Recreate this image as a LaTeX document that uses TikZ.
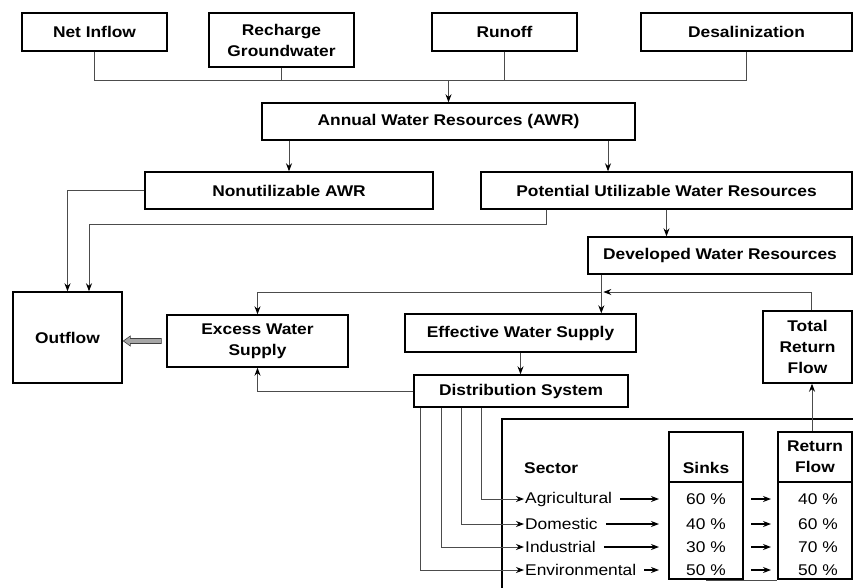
\documentclass[tikz,border=0pt]{standalone}
\usepackage{fontspec}
\setmainfont{Liberation Sans}[FakeStretch=1.12]
\usetikzlibrary{arrows.meta}
\tikzset{
  txt/.style={font=\fontsize{15.5}{21}\selectfont},
  box/.style={draw, line width=1.4pt, inner sep=0pt, align=center, txt, font=\fontsize{15.5}{21}\selectfont\bfseries},
  tbox/.style={draw, line width=2pt, inner sep=0pt},
  hdr/.style={inner sep=1pt, align=center, font=\fontsize{15.5}{21}\selectfont\bfseries},
  row/.style={inner sep=1pt, txt},
  conn/.style={draw=black!70, line width=0.9pt},
  arr/.style={conn, -{Stealth[length=8pt,width=6pt,color=black]}},
  rowarr/.style={draw=black, line width=1.1pt, -{Stealth[length=8pt,width=6pt]}},
}
\begin{document}
\begin{tikzpicture}[x=1pt,y=-1pt]
  \useasboundingbox (0,0) rectangle (853,587);

  % sources
  \node[box, minimum width=145pt, minimum height=38pt] (inflow) at (94.5,32) {Net Inflow};
  \node[box, minimum width=145pt, minimum height=54pt] (recharge) at (281.5,40) {Recharge\\Groundwater};
  \node[box, minimum width=145pt, minimum height=38pt] (runoff) at (504.5,32) {Runoff};
  \node[box, minimum width=211pt, minimum height=38pt] (desal) at (746.5,32) {Desalinization};

  % resources
  \node[box, minimum width=373pt, minimum height=37pt] (awr) at (448.5,121.5) {Annual Water Resources (AWR)};
  \node[box, minimum width=288pt, minimum height=37pt] (nonutil) at (289,190.5) {Nonutilizable AWR};
  \node[box, minimum width=371pt, minimum height=37pt] (puwr) at (666.5,190.5) {Potential Utilizable Water Resources};
  \node[box, minimum width=264pt, minimum height=37pt] (dwr) at (720,255.5) {Developed Water Resources};

  % supply
  \node[box, minimum width=109pt, minimum height=91pt] (outflow) at (67.5,337.5) {Outflow};
  \node[box, minimum width=181pt, minimum height=52pt] (excess) at (257.5,341) {Excess Water\\Supply};
  \node[box, minimum width=231pt, minimum height=38pt] (ews) at (520.5,333) {Effective Water Supply};
  \node[box, minimum width=214pt, minimum height=32pt] (ds) at (521,391) {Distribution System};
  \node[box, minimum width=89pt, minimum height=72pt] (trf) at (807.5,347) {Total\\Return\\Flow};

  % table
  \draw[line width=2pt] (502,600) |- (870,419);
  \node[hdr, anchor=west] (sector) at (523,468) {Sector};
  \node[tbox, minimum width=74pt, minimum height=147pt] (sinks) at (706,505.5) {};
  \node[tbox, minimum width=74pt, minimum height=147pt] (retbox) at (815,505.5) {};
  \draw[line width=2pt] (sinks.west |- 0,482) -- (sinks.east |- 0,482);
  \draw[line width=2pt] (retbox.west |- 0,482) -- (retbox.east |- 0,482);
  \node[hdr] (sinkhd) at (706,468) {Sinks};
  \node[hdr] (rethd) at (815,457) {Return\\Flow};

  \node[row, anchor=west] (agri) at (524,499) {Agricultural};
  \node[row, anchor=west] (dom) at (524,524) {Domestic};
  \node[row, anchor=west] (ind) at (524,547) {Industrial};
  \node[row, anchor=west] (env) at (524,570) {Environmental};

  \node[row] (s1) at (706,499) {60 \%};
  \node[row] (s2) at (706,524) {40 \%};
  \node[row] (s3) at (706,547) {30 \%};
  \node[row] (s4) at (706,570) {50 \%};

  \node[row] (r1) at (818,499) {40 \%};
  \node[row] (r2) at (818,524) {60 \%};
  \node[row] (r3) at (818,547) {70 \%};
  \node[row] (r4) at (818,570) {50 \%};

  % inflows to AWR
  \coordinate (join) at (awr.north |- 0,80);
  \draw[conn] (inflow.south) |- (desal.south |- join) -- (desal.south);
  \draw[conn] (recharge.south) -- (recharge.south |- join);
  \draw[conn] (runoff.south) -- (runoff.south |- join);
  \draw[arr] (join) -- (awr.north);

  % AWR split
  \coordinate (ptap) at ([xshift=159.5pt]awr.south);
  \draw[arr] (awr.south -| nonutil.north) -- (nonutil.north);
  \draw[arr] (ptap) -- (ptap |- puwr.north);
  \draw[arr] (puwr.south) -- (puwr.south |- dwr.north);
  \draw[arr] (nonutil.west) -| (outflow.north);
  \draw[arr] ([xshift=-120.5pt]puwr.south) -- ++(0,15) -| ([xshift=21.5pt]outflow.north);

  % supply loop
  \coordinate (dtap) at ([xshift=14pt]dwr.south west);
  \coordinate (split) at (dtap |- 0,292);
  \coordinate (ttap) at ([xshift=3.5pt]trf.north);
  \draw[arr] (dtap) -- (dtap |- ews.north);
  \draw[arr] (ttap) |- ([xshift=2pt]split);
  \draw[arr] (split) -| (excess.north);
  \draw[arr] (ews.south) -- (ews.south |- ds.north);
  \draw[arr] (ds.west) -| (excess.south);
  \filldraw[fill=gray!70, draw=black!75, line width=0.6pt]
    ([xshift=-5pt,yshift=2.5pt]excess.west) -- ++(-31,0) -- ++(0,-2.5) -- ++(-7,5)
    -- ++(7,5) -- ++(0,-2.5) -- ++(31,0) -- cycle;

  % sectors
  \draw[arr] ([xshift=68pt]ds.south west) |- (agri.west);
  \draw[arr] ([xshift=48pt]ds.south west) |- (dom.west);
  \draw[arr] ([xshift=28pt]ds.south west) |- (ind.west);
  \draw[arr] ([xshift=7pt]ds.south west) |- (env.west);

  \foreach \a in {agri,dom,ind,env}
    \draw[rowarr, shorten <=7pt, shorten >=9pt] (\a.east) -- (\a.east -| sinks.west);
  \foreach \s in {s1,s2,s3,s4}
    \draw[rowarr, shorten <=7pt, shorten >=6pt] (sinks.east |- \s) -- (retbox.west |- \s);

  \coordinate (rtap) at ([xshift=-3pt]retbox.north);
  \draw[arr] (rtap) -- (rtap |- trf.south);
  \draw[conn] (sinks.south) -- (retbox.south west);
\end{tikzpicture}
\end{document}
